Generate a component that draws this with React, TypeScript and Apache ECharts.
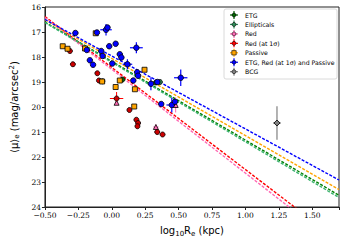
import React, { useEffect, useRef } from "react";
import * as echarts from "echarts";

// x tick labels / y ticks
const xTicks = [-0.5, -0.25, 0, 0.25, 0.5, 0.75, 1.0, 1.25, 1.5];
const yTicks = [16, 17, 18, 19, 20, 21, 22, 23, 24];

// data: [log10 Re, <mu>_e, xerr, yerr]
const etgPts = [
  [-0.07, 18.97, 0.0, 0.0],
  [0.08, 18.9, 0.0, 0.0],
  [0.33, 19.02, 0.0, 0.0],
];
const ellPts = [
  [0.36, 19.0, 0.0, 0.0],
];
const redPts = [
  [0.036, 19.83, 0.0, 0.08],
  [0.478, 19.92, 0.0, 0.3],
  [0.33, 20.8, 0.02, 0.1],
];
const red1sPts = [
  [-0.313, 17.76, 0.01, 0.05],
  [-0.291, 18.29, 0.02, 0.1],
  [-0.108, 18.65, 0.01, 0.05],
  [-0.096, 18.94, 0.01, 0.05],
  [0.036, 19.66, 0.05, 0.26],
  [0.132, 20.12, 0.01, 0.05],
  [0.184, 20.51, 0.01, 0.05],
  [0.197, 20.64, 0.01, 0.05],
  [0.192, 20.77, 0.01, 0.05],
  [0.34, 21.0, 0.02, 0.1],
  [0.38, 21.1, 0.02, 0.1],
];
const passivePts = [
  [-0.367, 17.57, 0.0, 0.0],
  [-0.331, 17.67, 0.0, 0.0],
  [-0.2, 17.66, 0.0, 0.0],
  [-0.12, 17.05, 0.0, 0.0],
  [0.245, 18.51, 0.0, 0.0],
  [0.06, 18.94, 0.0, 0.0],
  [-0.072, 18.98, 0.0, 0.0],
  [0.029, 19.2, 0.0, 0.0],
  [0.173, 19.29, 0.0, 0.0],
  [0.168, 19.98, 0.0, 0.0],
];
const bluePts = [
  [-0.272, 17.04, 0.02, 0.08],
  [-0.111, 17.02, 0.01, 0.05],
  [-0.043, 16.91, 0.043, 0.23],
  [-0.032, 16.82, 0.02, 0.1],
  [-0.019, 17.57, 0.02, 0.1],
  [0.029, 17.47, 0.01, 0.05],
  [0.184, 17.63, 0.048, 0.22],
  [-0.187, 17.72, 0.01, 0.05],
  [-0.079, 17.76, 0.01, 0.05],
  [-0.068, 17.96, 0.01, 0.05],
  [-0.164, 18.13, 0.01, 0.05],
  [-0.14, 18.31, 0.01, 0.05],
  [0.004, 18.26, 0.01, 0.05],
  [0.06, 17.89, 0.02, 0.08],
  [0.072, 18.02, 0.02, 0.08],
  [0.117, 18.29, 0.036, 0.2],
  [0.19, 18.61, 0.01, 0.05],
  [0.161, 18.94, 0.01, 0.05],
  [0.197, 18.75, 0.01, 0.05],
  [0.293, 19.07, 0.01, 0.26],
  [0.341, 19.0, 0.02, 0.08],
  [0.516, 18.83, 0.05, 0.33],
  [0.37, 19.88, 0.01, 0.05],
  [0.449, 19.92, 0.04, 0.3],
  [0.473, 19.79, 0.01, 0.05],
];
const bcgPts = [[1.236, 20.64, 0.03, 0.67]];

// fit lines: values at x = -0.5 and x = 1.7
const fitX = [-0.5, 1.7];
const fitBlue = [16.5, 22.92];
const fitOrange = [16.52, 23.3];
const fitGreen = [16.6, 23.53];
const fitSeaGreen = [16.62, 23.62];
const fitRed = [16.38, 25.36];
const fitPink = [16.42, 25.55];

const legendNames = [
  "ETG",
  "Ellipticals",
  "Red",
  "Red (at 1\u03c3)",
  "Passive",
  "ETG, Red (at 1\u03c3) and Passive",
  "BCG",
];
const legendColors = ["#006400", "#2e8b57", "#ff69b4", "#ff0000", "#ffa500", "#0000ff", "#808080"];

function errSeries(pts: number[][], color: string, lw: number) {
  return {
    type: "custom",
    z: 3,
    renderItem: (_p: any, api: any) => {
      const x = api.value(0), y = api.value(1), ex = api.value(2), ey = api.value(3);
      const a = api.coord([x - ex, y]);
      const b = api.coord([x + ex, y]);
      const c = api.coord([x, y - ey]);
      const d = api.coord([x, y + ey]);
      return {
        type: "group",
        children: [
          { type: "line", shape: { x1: a[0], y1: a[1], x2: b[0], y2: b[1] }, style: { stroke: color, lineWidth: lw } },
          { type: "line", shape: { x1: c[0], y1: c[1], x2: d[0], y2: d[1] }, style: { stroke: color, lineWidth: lw } },
        ],
      };
    },
    data: pts,
  };
}

function scat(pts: number[][], color: string, symbol: string, size: number, z = 4) {
  return {
    type: "scatter",
    z,
    symbol,
    symbolSize: size,
    itemStyle: { color, borderColor: "#000", borderWidth: 0.8, opacity: 1 },
    data: pts.map((p) => [p[0], p[1]]),
  };
}

function fit(vals: number[], color: string) {
  return {
    type: "line",
    z: 2,
    symbol: "none",
    lineStyle: { color, width: 1.4, type: [3, 1.5] },
    data: fitX.map((x, i) => [x, vals[i]]),
  };
}

export default function App() {
  const ref = useRef<HTMLDivElement>(null);
  useEffect(() => {
    const chart = echarts.init(ref.current!, null, { renderer: "svg" });
    const legendChildren: any[] = [
      {
        type: "rect",
        shape: { x: 224, y: 9, width: 113, height: 70, r: 2 },
        style: { fill: "#fff", stroke: "#d0d0d0", lineWidth: 0.8 },
      },
    ];
    legendNames.forEach((n, i) => {
      const y = 15 + i * 9.45;
      const c = legendColors[i];
      legendChildren.push(
        { type: "line", shape: { x1: 230, y1: y, x2: 238, y2: y }, style: { stroke: c, lineWidth: 1.2 } },
        { type: "line", shape: { x1: 234, y1: y - 4, x2: 234, y2: y + 4 }, style: { stroke: c, lineWidth: 1.2 } },
        i === 4
          ? { type: "rect", shape: { x: 231.8, y: y - 2.2, width: 4.4, height: 4.4 }, style: { fill: c, stroke: "#000", lineWidth: 0.6 } }
          : { type: "circle", shape: { cx: 234, cy: y, r: 2 }, style: { fill: c, stroke: "#000", lineWidth: 0.6 } },
        {
          type: "text",
          x: 245,
          y,
          style: { text: n, fontSize: 6.2, fontFamily: "DejaVu Sans", fill: "#000", verticalAlign: "middle", align: "left" },
        }
      );
    });
    chart.setOption({
      animation: false,
      grid: { left: 33, right: 7, top: 7, bottom: 31, show: true, borderColor: "#222", borderWidth: 1 },
      xAxis: {
        type: "value",
        min: -0.5,
        max: 1.7,
        interval: 0.25,
        splitLine: { show: false },
        axisLine: { onZero: false, lineStyle: { color: "#222" } },
        axisTick: { length: 3, lineStyle: { color: "#222" } },
        axisLabel: {
          fontSize: 7.5,
          fontFamily: "DejaVu Serif",
          color: "#000",
          margin: 4,
          formatter: (v: number) => (v > 1.6 ? "" : (v < 0 ? "\u2212" : "") + Math.abs(v).toFixed(2)),
        },
        name: "log{s|10}R{s|e} (kpc)",
        nameLocation: "middle",
        nameGap: 17,
        nameTextStyle: {
          fontSize: 10,
          fontFamily: "DejaVu Sans",
          color: "#000",
          rich: { s: { fontSize: 7, verticalAlign: "bottom", padding: [6, 0, 0, 0], fontFamily: "DejaVu Sans" } },
        },
      },
      yAxis: {
        type: "value",
        inverse: true,
        min: 16,
        max: 24,
        interval: 1,
        splitLine: { show: false },
        axisLine: { onZero: false, lineStyle: { color: "#222" } },
        axisTick: { length: 3, lineStyle: { color: "#222" } },
        axisLabel: { fontSize: 7.5, fontFamily: "DejaVu Serif", color: "#000", margin: 4 },
        name: "\u27e8\u03bc\u27e9{s|e} (mag/arcsec{p|2})",
        nameLocation: "middle",
        nameGap: 18,
        nameRotate: 90,
        nameTextStyle: {
          fontSize: 10,
          fontFamily: "DejaVu Sans",
          color: "#000",
          rich: {
            s: { fontSize: 7, padding: [6, 0, 0, 0], fontFamily: "DejaVu Sans" },
            p: { fontSize: 7, padding: [0, 0, 5, 0], fontFamily: "DejaVu Sans" },
          },
        },
      },
      graphic: legendChildren,
      series: [
        fit(fitRed, "#ff0000"),
        fit(fitPink, "#ff69b4"),
        fit(fitGreen, "#008000"),
        fit(fitSeaGreen, "#3cb371"),
        fit(fitOrange, "#ffa500"),
        fit(fitBlue, "#0000ff"),
        errSeries(etgPts, "#006400", 1),
        errSeries(ellPts, "#2e8b57", 1),
        errSeries(redPts, "#ff69b4", 1),
        errSeries(red1sPts, "#ff0000", 1),
        errSeries(passivePts, "#ffa500", 1),
        errSeries(bluePts, "#0000ff", 1.2),
        errSeries(bcgPts, "#808080", 1.2),
        scat(etgPts, "#006400", "circle", 5),
        scat(ellPts, "#2e8b57", "circle", 5),
        scat(redPts, "#ff69b4", "triangle", 5),
        scat(red1sPts, "#cc0000", "circle", 5),
        scat(passivePts, "#ffa500", "rect", 5),
        scat(bluePts, "#0000ff", "circle", 5.5, 6),
        scat(bcgPts, "#808080", "diamond", 6),
      ],
    });
    return () => chart.dispose();
  }, []);
  return <div ref={ref} style={{ width: 346, height: 242, position: "absolute", left: 0, top: 0 }} />;
}
